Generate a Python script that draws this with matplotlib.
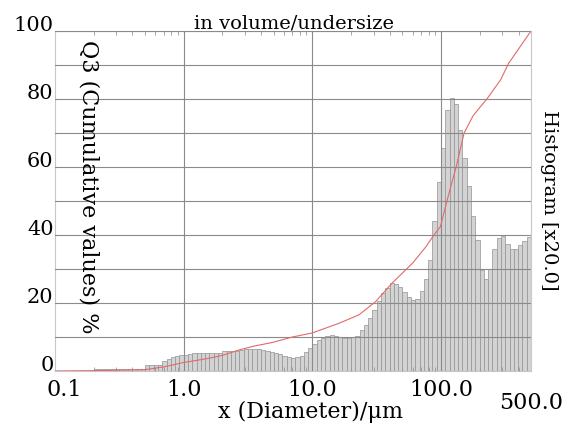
import matplotlib
matplotlib.use('Agg')
import matplotlib.pyplot as plt
from matplotlib.ticker import FixedLocator, NullFormatter
import numpy as np

plt.rcParams['font.family'] = ['DejaVu Serif']

# ---------------- data ----------------
hist_range = [0.2, 500.0]          # histogram bin range (um), log-spaced channels
hist_values = [
    0.7, 0.7, 0.7, 0.7, 0.7, 0.7, 0.7, 0.7, 0.7, 0.7, 0.7, 0.7,
    1.8, 1.8, 1.8, 1.8,
    3.0, 3.5, 4.0, 4.3, 4.6, 4.8, 5.0, 5.2, 5.2,
    5.4, 5.4, 5.4, 5.4, 5.4,
    5.8, 5.8, 5.8, 6.0, 6.2,
    6.5, 6.5, 6.5, 6.5,
    6.3, 6.0, 5.7, 5.3, 4.9, 4.4, 4.0, 3.8, 4.0, 4.5, 5.6, 6.8, 7.8, 9.0,
    9.8, 10.3, 10.5, 10.3, 10.0, 9.8, 9.8, 10.0, 10.4, 12.0, 13.5, 15.5,
    18.0, 20.5, 23.0, 24.5, 25.8, 25.5, 24.6, 23.2, 21.8, 21.0, 21.2, 23.5,
    27.2, 32.6, 44.0, 55.7,
    65.5, 76.8, 80.2, 78.5, 71.0, 62.6, 54.3, 45.6, 38.5, 29.7, 27.0, 29.9,
    36.0, 39.0, 39.7, 37.4, 36.0, 35.8, 37.0, 38.3, 39.5,
]
cum_x = [0.1, 0.2, 0.5, 0.7, 1.0, 1.5, 2.0, 2.7, 3.5, 4.9, 7.0, 10.0, 16.0,
         23.0, 31.0, 41.5, 60.0, 76.5, 88.0, 99.0, 108.5, 122.5, 131.0, 151.0,
         177.0, 200.0, 227.0, 290.0, 335.0, 500.0]
cum_y = [0.0, 0.1, 0.4, 1.2, 2.5, 3.6, 4.6, 6.2, 7.3, 8.4, 10.0, 11.2, 14.0,
         16.5, 20.4, 25.8, 31.7, 36.6, 40.0, 42.5, 48.5, 56.0, 60.0, 70.0,
         75.0, 77.5, 80.0, 85.6, 90.5, 100.0]
x_major = [1.0, 10.0, 100.0]
x_major_labels = ['1.0', '10.0', '100.0']
y_major = [0, 20, 40, 60, 80, 100]
y_minor = [10, 30, 50, 70, 90]

# ---------------- figure ----------------
W, H = 567, 428
fig = plt.figure(figsize=(W / 100, H / 100), dpi=100)
ax = fig.add_axes([55 / W, 1 - 371 / H, (531 - 55) / W, (371 - 31) / H])

edges = np.logspace(np.log10(hist_range[0]), np.log10(hist_range[1]), len(hist_values) + 1)
ax.bar(edges[:-1], hist_values, width=np.diff(edges), align='edge',
       color='#d3d3d3', edgecolor='#939393', linewidth=0.5, zorder=1)
ax.plot(cum_x, cum_y, color='#e06a6a', lw=0.8, zorder=4)

ax.set_xscale('log')
ax.set_xlim(0.1, 500)
ax.set_ylim(0, 100)

ax.xaxis.set_major_locator(FixedLocator(x_major))
ax.set_xticklabels(x_major_labels)
ax.xaxis.set_minor_locator(FixedLocator(
    [m * d for d in (0.1, 1, 10, 100) for m in range(2, 10) if m * d < 500]))
ax.xaxis.set_minor_formatter(NullFormatter())
ax.set_yticks(y_major)
ax.set_yticks(y_minor, minor=True)

ax.grid(True, which='major', axis='x', color='#8a8a8a', lw=0.8, zorder=3)
ax.grid(True, which='both', axis='y', color='#8a8a8a', lw=0.8, zorder=3)
ax.set_axisbelow(False)

ax.tick_params(axis='y', which='both', length=0, pad=1.0, labelsize=15)
ax.tick_params(axis='x', which='major', length=0, pad=6, labelsize=16)
ax.tick_params(axis='x', which='minor', direction='in', length=3, width=0.6,
               color='#999999', top=True, bottom=True)
for lab in ax.get_yticklabels():
    lab.set_va('baseline')

for s in ax.spines.values():
    s.set_color('#c8c8c8')
    s.set_linewidth(0.8)

# extra end labels
ax.annotate('0.1', xy=(0.1, 0), xycoords=('data', 'axes fraction'),
            xytext=(7, -6), textcoords='offset points', ha='center', va='top', fontsize=16)
ax.annotate('500.0', xy=(500, 0), xycoords=('data', 'axes fraction'),
            xytext=(0, -15), textcoords='offset points', ha='center', va='top', fontsize=16)

fig.text(294 / W, 1 - 23 / H, 'in volume/undersize', ha='center', va='center', fontsize=14)
fig.text(311 / W, 1 - 412 / H, 'x (Diameter)/\u03bcm', ha='center', va='center', fontsize=16)
fig.text(88 / W, 1 - 187 / H, 'Q3 (Cumulative values) %', rotation=270,
         ha='center', va='center', fontsize=16)
fig.text(549 / W, 1 - 200 / H, 'Histogram [x20.0]', rotation=270,
         ha='center', va='center', fontsize=14)

fig.savefig('out.png', dpi=100)
